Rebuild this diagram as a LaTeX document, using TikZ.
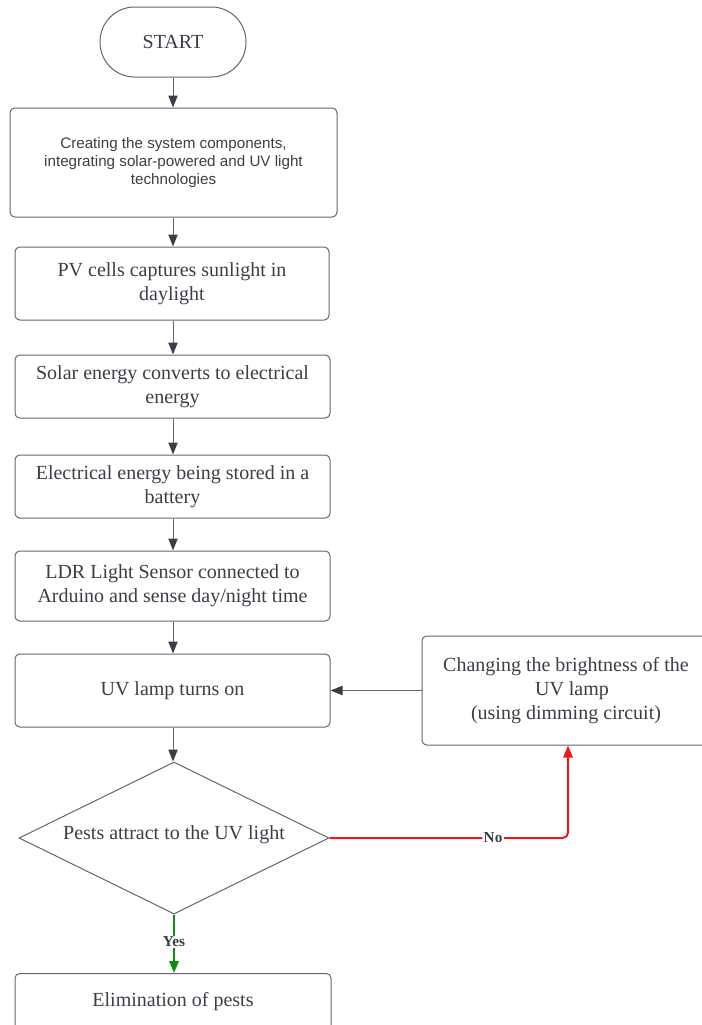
\documentclass[tikz,border=0pt]{standalone}
\usepackage{fontspec}
\setmainfont{Liberation Serif}
\newfontfamily\sansfnt{Liberation Sans}
\usetikzlibrary{shapes.geometric,arrows.meta}
\definecolor{lineC}{HTML}{60666F}
\definecolor{tipC}{HTML}{3A3F47}
\definecolor{txtC}{HTML}{3A3E46}
\definecolor{noC}{HTML}{E81B1B}
\definecolor{yesC}{HTML}{0E8A12}
\newcommand\padR{\hspace*{9pt}}
\tikzset{
  box/.style={draw=lineC, line width=0.75pt, rounded corners=3.5pt, align=center,
    text=txtC, inner sep=0pt, font=\fontsize{15}{18}\selectfont},
  term/.style={box, rounded corners=26pt},
  dec/.style={diamond, draw=lineC, line width=0.75pt, inner sep=0pt, text=txtC,
    font=\fontsize{15}{18}\selectfont},
  arr/.style={draw=lineC, line width=0.75pt, -{Triangle[length=9pt,width=7pt,color=tipC]}},
  noarr/.style={draw=noC, line width=1.5pt, rounded corners=4pt, -{Triangle[length=9pt,width=7pt]}},
  yesarr/.style={draw=yesC, line width=1.5pt, -{Triangle[length=9pt,width=7pt]}},
  lab/.style={fill=white, inner sep=1pt, text=txtC, font=\bfseries\fontsize{11.5}{13}\selectfont},
}
\begin{document}
\begin{tikzpicture}[x=0.75pt,y=-0.75pt]
\useasboundingbox (0,0) rectangle (701,1025);
\node[term, minimum width=146*0.75pt, minimum height=70*0.75pt] (start) at (173,42) {START};
\node[box, minimum width=327*0.75pt, minimum height=109*0.75pt,
  font=\sansfnt\fontsize{11.4}{13.5}\selectfont] (b1) at (173.5,162.5)
  {Creating the system components,\\integrating solar-powered and UV light\\technologies};
\node[box, minimum width=314*0.75pt, minimum height=73*0.75pt] (b2) at (172,283.5)
  {PV cells captures sunlight in\\daylight};
\node[box, minimum width=315*0.75pt, minimum height=63*0.75pt] (b3) at (172.5,386.5)
  {Solar energy converts to electrical\\energy};
\node[box, minimum width=315*0.75pt, minimum height=63*0.75pt] (b4) at (172.5,486.5)
  {Electrical energy being stored in a\\battery};
\node[box, minimum width=315*0.75pt, minimum height=70*0.75pt] (b5) at (172.5,586)
  {LDR Light Sensor connected to\\Arduino and sense day/night time};
\node[box, minimum width=315*0.75pt, minimum height=73*0.75pt] (b6) at (172.5,690.5)
  {UV lamp turns on};
\node[box, minimum width=300*0.75pt, minimum height=109*0.75pt] (b7) at (572,690.5)
  {Changing the brightness of the\padR\\UV lamp\padR\\(using dimming circuit)\padR};
\node[dec, minimum width=310*0.75pt, minimum height=152*0.75pt, aspect=2.04] (d) at (174,838) {};
\node[text=txtC, font=\fontsize{15}{18}\selectfont, inner sep=0pt] (dt) at (174,835) {Pests attract to the UV light};
\node[box, anchor=north, minimum width=316*0.75pt, text height=15pt, text depth=30pt,
  inner ysep=9.4pt] (b8) at (173,973) {Elimination of pests};

\draw[arr] (start.south) -- (start.south |- b1.north);
\draw[arr] (b1.south -| start.south) -- (start.south |- b2.north);
\draw[arr] (b2.south -| start.south) -- (start.south |- b3.north);
\draw[arr] (b3.south -| start.south) -- (start.south |- b4.north);
\draw[arr] (b4.south -| start.south) -- (start.south |- b5.north);
\draw[arr] (b5.south -| start.south) -- (start.south |- b6.north);
\draw[arr] (b6.south -| start.south) -- (start.south |- d.north);
\draw[arr] (b7.west) -- (b6.east);
\draw[noarr] (d.east) -| ([xshift=-3pt]b7.south) node[lab, pos=0.343] (nolab) {No};
\draw[yesarr] (d.south) -- (d.south |- b8.north) node[lab, pos=0.47] (yeslab) {Yes};
\end{tikzpicture}
\end{document}
